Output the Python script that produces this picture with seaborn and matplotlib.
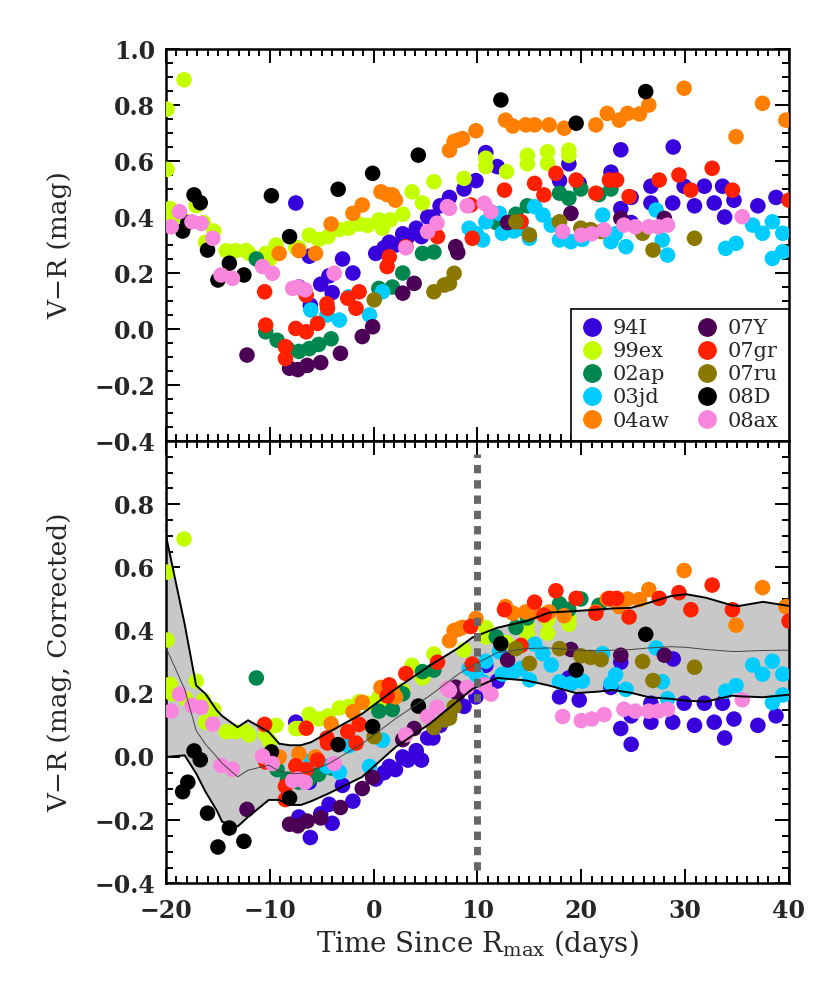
import numpy as np
import pandas as pd
import seaborn as sns
import matplotlib.pyplot as plt
from matplotlib.lines import Line2D
from matplotlib.ticker import MultipleLocator, FuncFormatter

sns.set_style("ticks")
plt.rcParams['font.family'] = ['DejaVu Serif']
plt.rcParams['mathtext.fontset'] = 'dejavuserif'

sn_names = ['94I', '99ex', '02ap', '03jd', '04aw', '07Y', '07gr', '07ru', '08D', '08ax']
sn_colors = ['#3700dc', '#c4ff00', '#00874f', '#00ccff', '#ff8000',
             '#4c0055', '#ff2000', '#8a7800', '#000000', '#f986dd']
# offsets applied to get the corrected colours (lower panel)
sn_corr = [-0.34, -0.20, 0.0, -0.08, -0.27, -0.073, -0.03, -0.04, -0.46, -0.22]

# observed V-R, days since R max
t_94I = [-7.5, -7.2, -6.2, -6.1, -5.1, -4.3, -4.0, -3.0, -2.0, 0.2, 1.0, 1.5, 2.1, 2.8, 3.3,
         4.1, 4.6, 5.2, 5.7, 6.4, 7.3, 8.7, 9.85, 10.8, 11.9, 17.9, 18.8, 19.8, 22.85, 23.8,
         23.8, 24.8, 24.8, 26.7, 26.7, 28.85, 28.8, 29.9, 30.9, 31.85, 32.8, 33.6, 33.8, 34.7,
         37.0, 38.75]
vr_94I = [0.45, 0.15, 0.26, 0.085, 0.16, 0.19, 0.13, 0.25, 0.20, 0.27, 0.29, 0.31, 0.30, 0.34, 0.33,
          0.36, 0.33, 0.40, 0.40, 0.44, 0.47, 0.50, 0.53, 0.63, 0.58, 0.53, 0.59, 0.52, 0.56, 0.64,
          0.43, 0.47, 0.38, 0.51, 0.45, 0.65, 0.45, 0.51, 0.44, 0.51, 0.45, 0.51, 0.40, 0.46,
          0.44, 0.47]

t_99ex = [-19.9, -19.9, -19.6, -19.4, -18.26, -18.1, -17.1, -16.4, -16.2, -15.4, -14.2, -13.3,
          -12.3, -12.0, -10.4, -10.0, -9.4, -7.5, -7.2, -6.2, -5.3, -4.4, -3.3, -2.4, -1.4, -0.6,
          0.5, 0.85, 1.6, 2.8, 3.7, 4.7, 5.8, 8.7, 10.8, 10.8, 12.8, 14.8, 14.8, 16.75, 16.75,
          18.8, 18.8]
vr_99ex = [0.785, 0.57, 0.43, 0.40, 0.89, 0.385, 0.44, 0.38, 0.31, 0.35, 0.28, 0.28,
           0.28, 0.27, 0.27, 0.25, 0.30, 0.29, 0.29, 0.335, 0.32, 0.33, 0.355, 0.36, 0.375, 0.37,
           0.39, 0.36, 0.39, 0.41, 0.49, 0.45, 0.526, 0.538, 0.61, 0.58, 0.562, 0.62, 0.59, 0.633,
           0.592, 0.639, 0.62]

t_02ap = [-11.3, -10.4, -9.3, -8.3, -7.2, -6.2, -5.3, -4.1, 0.5, 1.8, 2.8, 4.7, 5.8, 11.8,
          13.7, 14.8, 17.9, 18.8, 19.95, 21.7, 22.85]
vr_02ap = [0.25, -0.01, -0.04, -0.07, -0.08, -0.07, -0.055, -0.035, 0.145, 0.15, 0.20, 0.27,
           0.275, 0.38, 0.41, 0.44, 0.485, 0.467, 0.50, 0.48, 0.50]

t_03jd = [-6.05, -4.5, -3.3, -2.4, -0.4, 0.85, 9.2, 9.9, 10.5, 10.8, 12.1, 12.4, 13.5, 15.0,
          14.2, 15.5, 16.3, 17.1, 17.9, 19.0, 20.1, 22.05, 22.85, 23.3, 24.3, 27.2, 27.8, 28.3,
          33.9, 34.9, 36.5, 37.45, 38.4, 39.4, 38.4, 39.4]
vr_03jd = [0.068, 0.05, 0.032, 0.115, 0.05, 0.133, 0.36, 0.34, 0.318, 0.383, 0.413, 0.342, 0.35,
           0.324, 0.36, 0.437, 0.407, 0.371, 0.318, 0.312, 0.32, 0.407, 0.312, 0.34, 0.294, 0.425,
           0.318, 0.264, 0.288, 0.306, 0.371, 0.342, 0.383, 0.342, 0.252, 0.276]

t_04aw = [-9.1, -7.2, -5.6, -4.1, -2.0, -1.1, 0.7, 1.3, 1.8, 2.1, 7.3, 7.75, 8.2, 8.55, 9.85,
          12.7, 13.4, 14.65, 15.5, 16.9, 18.35, 21.4, 22.5, 23.65, 24.45, 25.6, 26.5, 29.9,
          34.9, 37.45, 39.7]
vr_04aw = [0.27, 0.28, 0.27, 0.375, 0.413, 0.443, 0.49, 0.48, 0.479, 0.46, 0.638, 0.67, 0.675,
           0.68, 0.708, 0.746, 0.725, 0.729, 0.729, 0.729, 0.717, 0.729, 0.77, 0.746, 0.77,
           0.768, 0.80, 0.86, 0.687, 0.806, 0.746]

t_07Y = [-12.2, -8.1, -7.3, -6.4, -5.1, -3.2, -1.1, -0.1, 2.8, 3.9, 7.9, 8.1, 12.9, 19.0, 23.8, 28.0]
vr_07Y = [-0.093, -0.14, -0.145, -0.13, -0.12, -0.087, -0.027, 0.008, 0.128, 0.163, 0.294,
          0.273, 0.38, 0.413, 0.395, 0.395]

t_07gr = [-10.5, -10.4, -8.5, -8.5, -7.5, -6.5, -6.5, -5.4, -4.5, -4.45, -2.5, -1.7, -1.4, 1.3,
          1.5, 3.1, 6.15, 9.35, 9.5, 12.6, 14.2, 15.5, 16.4, 17.55, 19.5, 21.4, 22.7, 23.4, 24.6,
          27.5, 29.4, 30.55, 32.6, 34.55, 40.0]
vr_07gr = [0.133, 0.014, -0.063, -0.105, 0.002, -0.01, 0.121, 0.02, 0.09, 0.074, 0.11, 0.074,
           0.133, 0.223, 0.258, 0.294, 0.33, 0.443, 0.324, 0.496, 0.383, 0.52, 0.479, 0.556,
           0.532, 0.485, 0.532, 0.532, 0.473, 0.532, 0.55, 0.496, 0.574, 0.496, 0.46]

t_07ru = [0.05, 5.8, 6.8, 7.3, 7.75, 13.7, 15.0, 17.9, 19.95, 20.9, 21.9, 25.9, 26.9, 30.9]
vr_07ru = [0.104, 0.133, 0.157, 0.163, 0.199, 0.383, 0.336, 0.383, 0.36, 0.355, 0.348, 0.342,
           0.282, 0.324]

t_08D = [-18.4, -17.9, -17.3, -16.7, -16.0, -15.0, -13.9, -12.5, -9.85, -8.1, -3.42, -0.1, 4.3,
         12.25, 19.5, 26.2]
vr_08D = [0.35, 0.38, 0.479, 0.451, 0.282, 0.175, 0.235, 0.193, 0.476, 0.33, 0.499, 0.556,
          0.621, 0.818, 0.735, 0.848]

t_08ax = [-19.5, -18.7, -17.5, -16.6, -15.5, -14.7, -13.6, -10.7, -9.75, -7.8, -7.3, -6.6, -3.8,
          3.1, 5.2, 6.1, 7.1, 7.3, 9.0, 10.65, 11.3, 18.2, 20.0, 21.0, 22.2, 24.1, 25.2, 26.5,
          27.4, 28.3, 35.5]
vr_08ax = [0.365, 0.419, 0.383, 0.377, 0.324, 0.193, 0.181, 0.223, 0.199, 0.145, 0.15, 0.14,
           0.199, 0.29, 0.348, 0.378, 0.437, 0.431, 0.44, 0.449, 0.419, 0.348, 0.335, 0.34,
           0.354, 0.371, 0.365, 0.365, 0.365, 0.371, 0.401]

# mean and 1-sigma band of corrected colours
band_t = [-20, -18.2, -17.1, -16.2, -15.1, -14.6, -13.1, -12.1, -10.1, -9.1, -8.1, -7.0, -6.0,
          -4.3, -1.1, 2.1, 5.4, 8.2, 9.5, 11.9, 14.7, 16.9, 19.5, 21.7, 23.0, 24.8, 26.5, 28.6,
          30.1, 32.0, 34.5, 35.2, 37.5, 40]
band_hi = [0.70, 0.42, 0.226, 0.20, 0.147, 0.13, 0.094, 0.116, 0.079, 0.042, 0.037, 0.037,
           0.047, 0.079, 0.137, 0.215, 0.289, 0.346, 0.378, 0.409, 0.43, 0.457, 0.462, 0.467,
           0.47, 0.472, 0.488, 0.509, 0.515, 0.504, 0.48, 0.478, 0.491, 0.478]
band_mid = [0.346, 0.214, 0.084, 0.04, 0.0, -0.02, -0.063, -0.042, -0.026, -0.045, -0.052,
            -0.052, -0.045, -0.021, 0.042, 0.121, 0.194, 0.263, 0.289, 0.33, 0.343, 0.345, 0.338,
            0.336, 0.338, 0.34, 0.345, 0.349, 0.347, 0.34, 0.334, 0.334, 0.337, 0.338]
band_lo = [0.0, 0.005, -0.052, -0.11, -0.17, -0.205, -0.22, -0.19, -0.136, -0.136, -0.152,
           -0.152, -0.14, -0.115, -0.063, 0.031, 0.105, 0.18, 0.215, 0.25, 0.242, 0.226, 0.202,
           0.207, 0.212, 0.203, 0.189, 0.184, 0.178, 0.175, 0.194, 0.192, 0.189, 0.197]

all_t = [t_94I, t_99ex, t_02ap, t_03jd, t_04aw, t_07Y, t_07gr, t_07ru, t_08D, t_08ax]
all_vr = [vr_94I, vr_99ex, vr_02ap, vr_03jd, vr_04aw, vr_07Y, vr_07gr, vr_07ru, vr_08D, vr_08ax]

frames = []
for name, t, vr in zip(sn_names, all_t, all_vr):
    frames.append(pd.DataFrame({'t': t, 'vr': vr, 'sn': name}))
df = pd.concat(frames, ignore_index=True)
df['vr_corr'] = df['vr'] + df['sn'].map(dict(zip(sn_names, sn_corr)))

fig = plt.figure(figsize=(8.3, 9.82), dpi=100)
ax1 = fig.add_axes([0.2, 0.5509, 0.7506, 0.3992])
ax2 = fig.add_axes([0.2, 0.1005, 0.7506, 0.4504])

sns.scatterplot(data=df, x='t', y='vr', hue='sn', hue_order=sn_names, palette=sn_colors,
                s=125, linewidth=0, legend=False, ax=ax1, zorder=3)

ax2.fill_between(band_t, band_lo, band_hi, color='#c8c8c8', lw=0, zorder=1)
sns.scatterplot(data=df, x='t', y='vr_corr', hue='sn', hue_order=sn_names, palette=sn_colors,
                s=125, linewidth=0, legend=False, ax=ax2, zorder=3)
ax2.plot(band_t, band_hi, color='black', lw=1.4, zorder=4)
ax2.plot(band_t, band_lo, color='black', lw=1.4, zorder=4)
ax2.plot(band_t, band_mid, color='#444444', lw=0.7, zorder=4)
ax2.axvline(10, ymin=0.03, ymax=0.97, color='#666666', lw=5, ls=(0, (1.2, 1.0)), zorder=5)

for ax in (ax1, ax2):
    ax.set_xlim(-20, 40)
    ax.set_ylim(-0.4, 1.0)
    ax.xaxis.set_major_locator(MultipleLocator(10))
    ax.xaxis.set_minor_locator(MultipleLocator(1))
    ax.yaxis.set_major_locator(MultipleLocator(0.2))
    ax.yaxis.set_minor_locator(MultipleLocator(0.05))
    ax.tick_params(which='both', direction='in', top=True, right=True, width=1.4,
                   labelsize=17, color='black')
    ax.tick_params(which='major', length=10)
    ax.tick_params(which='minor', length=5)
    ax.tick_params(axis='x', pad=11)
    ax.tick_params(axis='y', pad=8)
    for lab in ax.get_xticklabels() + ax.get_yticklabels():
        lab.set_fontweight('bold')
    for sp in ax.spines.values():
        sp.set_linewidth(1.8)
        sp.set_color('black')

fmt = lambda v, pos: '' if v > 0.95 else f'{v:.1f}'.replace('-', '\u2212')
ax1.yaxis.set_major_formatter(FuncFormatter(lambda v, pos: f'{v:.1f}'.replace('-', '\u2212')))
ax2.yaxis.set_major_formatter(FuncFormatter(fmt))
ax1.tick_params(axis='x', labelbottom=False)
plt.setp(ax1.get_yticklabels() + ax2.get_yticklabels() + ax2.get_xticklabels(),
         fontweight='bold')

ax1.set_xlabel('')
ax1.set_ylabel('V\u2212R (mag)', fontsize=19)
ax2.set_ylabel('V\u2212R (mag, Corrected)', fontsize=19)
ax2.set_xlabel(r'Time Since R$_{\rm max}$ (days)', fontsize=20)
ax1.yaxis.set_label_coords(-0.15, 0.5)
ax2.yaxis.set_label_coords(-0.15, 0.5)
ax2.xaxis.set_label_coords(0.5, -0.1)

handles = [Line2D([], [], marker='o', ls='', color=c, markersize=12.5) for c in sn_colors]
leg = ax1.legend(handles, sn_names, ncol=2, loc='lower right', bbox_to_anchor=(1, 0),
                 borderaxespad=0, frameon=True, fancybox=False, edgecolor='black',
                 fontsize=15, handletextpad=0.5, columnspacing=1.3, labelspacing=0.2,
                 handlelength=1.0, borderpad=0.5, framealpha=1)
leg.get_frame().set_linewidth(1.2)

fig.savefig('out.png', dpi=100)
